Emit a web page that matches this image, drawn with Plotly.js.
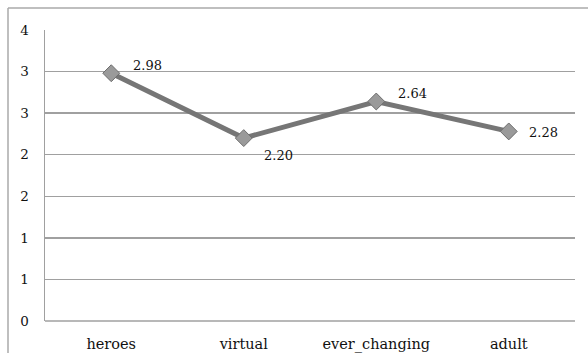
<!DOCTYPE html>
<html>
<head>
<meta charset="utf-8">
<script src="https://cdn.plot.ly/plotly-3.0.1.min.js"></script>
<style>
  html, body { margin: 0; padding: 0; background: #fff; }
  #chart { width: 588px; height: 353px; }
</style>
</head>
<body>
<div id="chart"></div>
<script>
// Mean scores per category
const categories = ["heroes", "virtual", "ever_changing", "adult"];
const scores = [2.98, 2.20, 2.64, 2.28];

// Y ticks every 0.5, shown with zero decimals
const yTickValues = [0, 0.5, 1, 1.5, 2, 2.5, 3, 3.5];
const yTickLabels = ["0", "1", "1", "2", "2", "3", "3", "4"];

// value label offsets (px) from each marker
const labelShiftX = [36, 35, 36, 35];
const labelShiftY = [8, -17, 8, -1];

const W = 588, H = 353;
const margin = { l: 45, r: 13, t: 30, b: 32 };
const pw = W - margin.l - margin.r, ph = H - margin.t - margin.b;
// outer frame edge in paper coordinates
const fx = (8 - margin.l) / pw;
const fy = 1 + (margin.t - 8) / ph;

const serif = "'DejaVu Serif', 'Liberation Serif', serif";

const trace = {
  type: "scatter",
  mode: "lines+markers",
  x: categories,
  y: scores,
  line: { color: "#767676", width: 5 },
  marker: {
    symbol: "diamond",
    size: 13,
    color: "#9a9a9a",
    line: { color: "#6e6e6e", width: 1 }
  },
  cliponaxis: false,
  hoverinfo: "skip"
};

const annotations = categories.map((c, i) => ({
  x: c,
  y: scores[i],
  xref: "x",
  yref: "y",
  text: scores[i].toFixed(2),
  showarrow: false,
  xshift: labelShiftX[i],
  yshift: labelShiftY[i],
  font: { family: serif, size: 13, color: "#111" }
}));

const layout = {
  width: W,
  height: H,
  margin: margin,
  paper_bgcolor: "#fff",
  plot_bgcolor: "#fff",
  showlegend: false,
  font: { family: serif, size: 13, color: "#111" },
  xaxis: {
    type: "category",
    range: [-0.5, 3.5],
    showgrid: false,
    zeroline: false,
    showline: false,
    ticks: "",
    ticklabelstandoff: 12,
    tickfont: { family: serif, size: 14.5 },
    fixedrange: true
  },
  yaxis: {
    range: [0, 3.5],
    tickvals: yTickValues,
    ticktext: yTickLabels,
    showgrid: true,
    gridcolor: "#a0a0a0",
    gridwidth: 1.5,
    zeroline: false,
    showline: true,
    linecolor: "#a0a0a0",
    linewidth: 1.5,
    ticks: "",
    ticklabelstandoff: 12,
    tickfont: { family: serif, size: 13.5 },
    fixedrange: true
  },
  annotations: annotations,
  shapes: [
    { type: "line", xref: "paper", yref: "paper", x0: 0, x1: 1, y0: 0, y1: 0,
      line: { color: "#a0a0a0", width: 1.5 } },
    { type: "line", xref: "paper", yref: "paper", x0: fx, x1: fx, y0: -0.2, y1: fy,
      line: { color: "#aaaaaa", width: 1.5 } },
    { type: "line", xref: "paper", yref: "paper", x0: fx, x1: 1.1, y0: fy, y1: fy,
      line: { color: "#aaaaaa", width: 1.5 } }
  ]
};

Plotly.newPlot("chart", [trace], layout, { staticPlot: true, displayModeBar: false });
</script>
</body>
</html>
